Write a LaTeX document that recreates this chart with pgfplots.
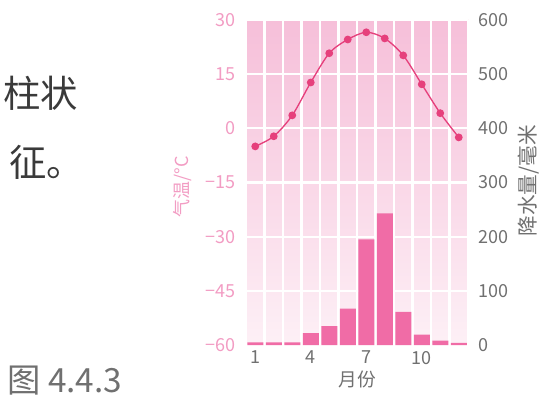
\documentclass[border=0pt]{standalone}
\usepackage{pgfplots}
\pgfplotsset{compat=1.18}
\usepackage{fontspec}
\setmainfont{Noto Sans CJK SC}

\definecolor{barpink}{HTML}{F06CA6}
\definecolor{linered}{HTML}{E6407C}
\definecolor{tickpink}{HTML}{F29CC3}
\definecolor{txtgray}{HTML}{707070}
\definecolor{bodygray}{HTML}{3A3A3A}
\definecolor{bgtop}{HTML}{F6BFD9}
\definecolor{bgmid}{HTML}{F9D4E6}
\definecolor{bgbot}{HTML}{FDF0F6}

% monthly precipitation (mm) and temperature (deg C)
\pgfplotstableread{
month prec temp
1   5   -5.0
2   5   -2.2
3   5    3.6
4  22   12.7
5  35   20.8
6  67   24.6
7 195   26.6
8 243   24.9
9  61   20.2
10 19   12.2
11  8    4.2
12  4   -2.5
}\climate

\pgfplotsset{climbase/.style={
  at={(184.5pt,44.25pt)}, anchor=south west, scale only axis,
  width=166.5pt, height=243.75pt,
  xmin=0.5, xmax=12.5,
  axis line style={draw=none}, major tick length=0, minor tick length=0,
  /pgf/number format/assume math mode=true,
}}

\begin{document}
\begin{tikzpicture}
\useasboundingbox (0,0) rectangle (409.5pt,303pt);

% precipitation, right axis, with the background
\begin{axis}[climbase,
  ymin=0, ymax=600,
  axis background/.style={shade, top color=bgtop, middle color=bgmid, bottom color=bgbot},
  xtick={1,4,7,10}, minor xtick={0.5,1.5,...,12.5},
  ytick={0,100,...,600},
  xticklabel pos=bottom, yticklabel pos=right,
  ymajorgrids, xminorgrids,
  major grid style={white, line width=1.6pt},
  minor grid style={white, line width=1.8pt},
  tick label style={font=\fontsize{13.5}{14}\selectfont, text=txtgray},
  yticklabel style={anchor=west, xshift=4pt},
  xticklabel style={yshift=-1pt},
  xlabel={月份}, xlabel style={font=\fontsize{14}{15}\selectfont, text=txtgray, yshift=2pt},
  ylabel={降水量/毫米},
  ylabel style={font=\fontsize{15.5}{16}\selectfont, text=txtgray,
    at={(axis description cs:1.275,0.505)}, anchor=center},
]
\addplot[ybar, bar width=12pt, fill=barpink, draw=none] table[x=month, y=prec] {\climate};
\end{axis}

% temperature, left axis
\begin{axis}[climbase,
  ymin=-60, ymax=30,
  xtick=\empty,
  ytick={-60,-45,...,30},
  yticklabels={−60,−45,−30,−15,0,15,30},
  yticklabel pos=left,
  tick label style={font=\fontsize{13.5}{14}\selectfont, text=tickpink},
  yticklabel style={anchor=east, xshift=-4pt},
  ylabel={气温/°C},
  ylabel style={font=\fontsize{13.5}{14}\selectfont, text=tickpink,
    at={(axis description cs:-0.285,0.486)}, anchor=center},
]
\addplot[linered, line width=1pt, smooth, mark=*, mark size=2.4pt,
  mark options={fill=linered, draw=linered}] table[x=month, y=temp] {\climate};
\end{axis}

% surrounding page text
\node[anchor=west, text=bodygray, font=\fontsize{28}{30}\selectfont, inner sep=0pt] at (2.25pt,233.25pt) {柱状};
\node[anchor=west, text=bodygray, font=\fontsize{28}{30}\selectfont, inner sep=0pt] at (6.75pt,181.5pt) {征。};
\node[anchor=west, text=txtgray, font=\fontsize{25}{27}\selectfont, inner sep=0pt] at (5.25pt,17.25pt) {图 4.4.3};
\end{tikzpicture}
\end{document}
